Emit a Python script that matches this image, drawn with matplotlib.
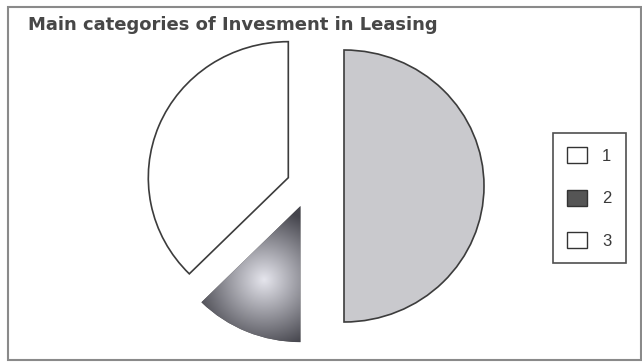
import numpy as np
import matplotlib
matplotlib.use('Agg')
import matplotlib.pyplot as plt
from matplotlib.patches import Patch, Rectangle

# data
labels = ['1', '2', '3']
shares = [50.0, 12.5, 37.5]
explode = [0.25, 0.16, 0.16]
slice_colors = ['#c9c9cd', '#5a5a5a', '#ffffff']
legend_colors = ['#ffffff', '#555555', '#ffffff']
title = 'Main categories of Invesment in Leasing'

W, H = 642, 362
fig = plt.figure(figsize=(W / 100, H / 100), dpi=100)

# outer frame
fig.patches.append(Rectangle((8 / W, 2 / H), 633 / W, 353 / H, transform=fig.transFigure,
                             fill=False, edgecolor='#8a8a8a', linewidth=1.5))

fig.text(28 / W, 1 - 25 / H, title, fontsize=13, fontweight='bold', color='#474747',
         family=['DejaVu Sans'], va='center', ha='left')

# pie axes: 1 unit = 140 px horizontally, 136 px vertically
cx, cy, rx, ry = 309, 186, 140, 136
lim = 1.3
ax = fig.add_axes([(cx - lim * rx) / W, (H - cy - lim * ry) / H, 2 * lim * rx / W, 2 * lim * ry / H])
wedges, _ = ax.pie(shares, explode=explode, colors=slice_colors, startangle=90, counterclock=False,
                   wedgeprops=dict(edgecolor='#3c3c3c', linewidth=1.2))
ax.set_aspect('auto')
ax.set_xlim(-lim, lim)
ax.set_ylim(-lim, lim)
ax.axis('off')

# radial shading on slice 2
w2 = wedges[1]
w2.set_edgecolor('none')
xs = np.linspace(-1.0, 0.2, 300)
ys = np.linspace(-1.3, -0.1, 300)
X, Y = np.meshgrid(xs, ys)
r = np.sqrt(((X + 0.32) / 0.5) ** 2 + ((Y + 0.69) / 0.5) ** 2)
shade = np.clip(0.9 - 0.6 * r, 0.27, 0.9)
rgb = np.dstack([shade, shade, np.clip(shade + 0.03, 0, 1)])
im = ax.imshow(rgb, extent=(xs[0], xs[-1], ys[0], ys[-1]), origin='lower', aspect='auto', zorder=2)
im.set_clip_path(w2)

handles = [Patch(facecolor=c, edgecolor='#333333', linewidth=1.0) for c in legend_colors]
leg = fig.legend(handles, labels, loc='upper left', bbox_to_anchor=(553 / W, 1 - 133 / H),
                 frameon=True, fancybox=False, edgecolor='#222222',
                 handlelength=1.2, handleheight=1.1, handletextpad=0.9, labelspacing=1.55,
                 borderpad=0.85, borderaxespad=0, prop={'family': 'Liberation Sans', 'size': 12})
leg.get_frame().set_linewidth(1.2)
for t in leg.get_texts():
    t.set_color('#3a3a3a')

fig.savefig('out.png', dpi=100)
